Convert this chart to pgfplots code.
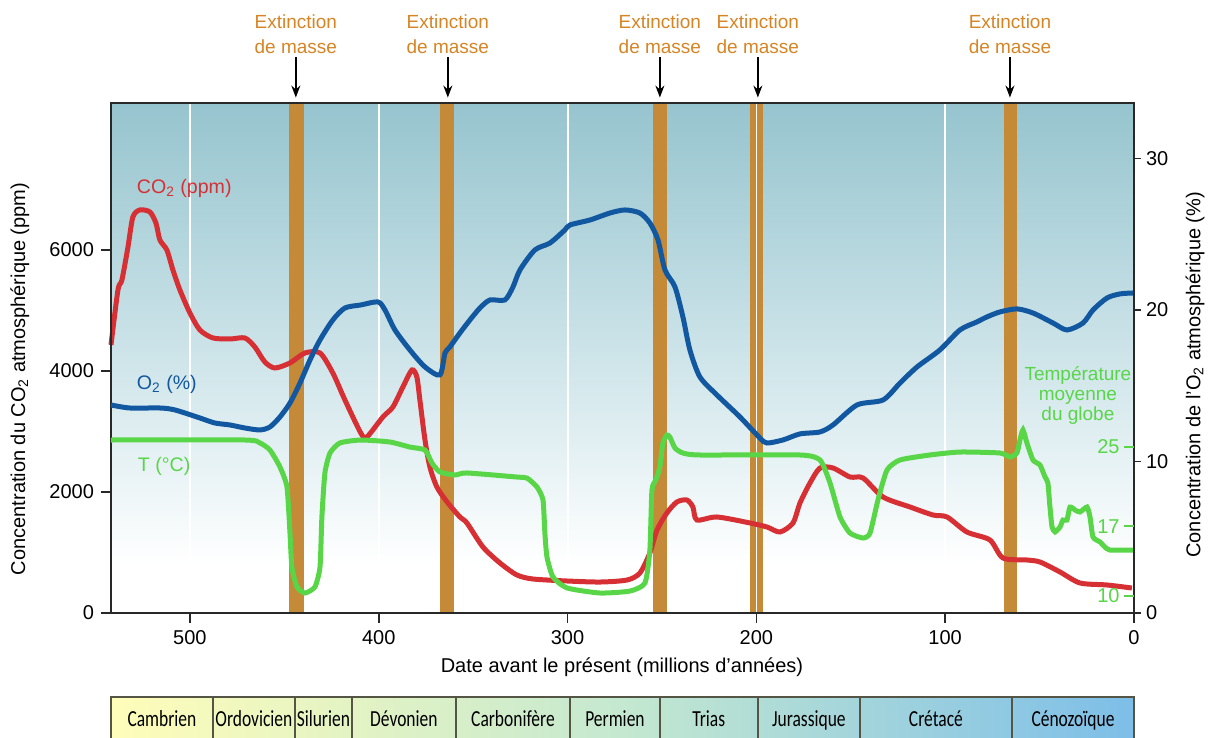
\documentclass[border=0pt]{standalone}
\usepackage{fontspec}
\setmainfont{Liberation Sans}
\newfontfamily\tablefont{Carlito}
\usepackage{graphicx}
\usepackage{pgfplots}
\pgfplotsset{compat=1.18}
\usetikzlibrary{arrows.meta}
\definecolor{co2}{RGB}{214,48,52}
\definecolor{otwo}{RGB}{18,88,160}
\definecolor{temp}{RGB}{88,214,72}
\definecolor{extc}{RGB}{196,138,56}
\definecolor{extt}{RGB}{214,132,36}
\definecolor{bgtop}{RGB}{150,196,206}
\definecolor{bgmid}{RGB}{205,228,233}
\definecolor{tabA}{RGB}{255,253,185}
\definecolor{tabB}{RGB}{196,232,208}
\definecolor{tabC}{RGB}{125,190,232}
\definecolor{framec}{RGB}{40,40,40}
\definecolor{tabline}{RGB}{85,85,70}
\pgfplotsset{common/.style={width=511.5pt,height=255pt,scale only axis,
  x dir=reverse,xmin=0,xmax=541.8,
  /pgf/number format/assume math mode=true,/pgf/number format/1000 sep={},
  tick label style={font=\fontsize{10}{12}\selectfont},
  label style={font=\fontsize{9.5}{11}\selectfont}}}
\newcommand{\tl}[1]{\scalebox{0.76}[1]{\tablefont\fontsize{11.5}{13}\selectfont #1}}
\begin{document}
\begin{tikzpicture}
\useasboundingbox (-55.5pt,-62.5pt) rectangle (552.5pt,306.5pt);
% ---------------- CO2 axis
\begin{axis}[common, ymin=0, ymax=8430, clip=false, axis on top,
  xtick={0,100,200,300,400,500}, ytick={0,2000,4000,6000},
  xtick pos=left, ytick pos=left, tick align=outside, major tick length=5pt,
  tick style={line width=0.8pt, color=framec},
  axis line style={line width=0.9pt, color=framec},
  xlabel={Date avant le présent (millions d'années)},
  ylabel={Concentration du CO\textsubscript{2} atmosphérique (ppm)},
  every axis x label/.style={at={(axis description cs:0.4995,-0.106)},anchor=center},
  every axis y label/.style={at={(axis description cs:-0.089,0.459)},rotate=90,anchor=center}]
\fill[top color=bgmid, bottom color=white] (axis cs:541.8,800) rectangle (axis cs:0,4300);
\fill[top color=bgtop, bottom color=bgmid] (axis cs:541.8,4290) rectangle (axis cs:0,8430);
% extinction bars
\fill[extc] (axis cs:447.5,0) rectangle (axis cs:439.6,8430);
\fill[extc] (axis cs:367.6,0) rectangle (axis cs:360.0,8430);
\fill[extc] (axis cs:254.6,0) rectangle (axis cs:247.5,8430);
\fill[extc] (axis cs:203.5,0) rectangle (axis cs:200.4,8430);
\fill[extc] (axis cs:199.6,0) rectangle (axis cs:196.4,8430);
\fill[extc] (axis cs:68.9,0) rectangle (axis cs:61.8,8430);
% white grid
\draw[white, line width=1pt] (axis cs:500,0) -- (axis cs:500,8430);
\draw[white, line width=1pt] (axis cs:400,0) -- (axis cs:400,8430);
\draw[white, line width=1pt] (axis cs:300,0) -- (axis cs:300,8430);
\draw[white, line width=0.6pt] (axis cs:200,0) -- (axis cs:200,8430);
\draw[white, line width=1pt] (axis cs:100,0) -- (axis cs:100,8430);
% annotations top
\foreach \xx in {443.9,363.4,251.1,199.2,65.7}{
  \edef\tmp{\noexpand\node[extt, align=center, font=\noexpand\fontsize{9.5}{12.5}\noexpand\selectfont] at (axis cs:\xx,9563) {Extinction\noexpand\\de masse};
  \noexpand\draw[-{Stealth[length=6pt,width=4.5pt]}, line width=0.8pt] (axis cs:\xx,9190) -- (axis cs:\xx,8520);}
  \tmp
}
% series labels
\node[co2, anchor=base west, font=\fontsize{9.8}{12}\selectfont] at (axis cs:531.8,6926) {CO\textsubscript{2} (ppm)};
\node[otwo, anchor=base west, font=\fontsize{9.8}{12}\selectfont] at (axis cs:531.8,3686) {O\textsubscript{2} (\%)};
\node[temp, anchor=base west, font=\fontsize{9.8}{12}\selectfont] at (axis cs:531.3,2347) {T (°C)};
\node[temp, align=center, font=\fontsize{9.5}{10.2}\selectfont] at (axis cs:29.7,3595) {Température\\moyenne\\du globe};
% period table
\fill[left color=tabA, right color=tabC, middle color=tabB] (axis cs:541.8,-1389) rectangle (axis cs:0,-2066);
\draw[tabline, line width=0.75pt] (axis cs:541.8,-2066) -- (axis cs:541.8,-1389) -- (axis cs:0,-1389) -- (axis cs:0,-2066);
\draw[tabline, line width=0.75pt] (axis cs:487.8,-1389) -- (axis cs:487.8,-2066);
\draw[tabline, line width=0.75pt] (axis cs:444.4,-1389) -- (axis cs:444.4,-2066);
\draw[tabline, line width=0.75pt] (axis cs:414.2,-1389) -- (axis cs:414.2,-2066);
\draw[tabline, line width=0.75pt] (axis cs:359.1,-1389) -- (axis cs:359.1,-2066);
\draw[tabline, line width=0.75pt] (axis cs:298.7,-1389) -- (axis cs:298.7,-2066);
\draw[tabline, line width=0.75pt] (axis cs:251.1,-1389) -- (axis cs:251.1,-2066);
\draw[tabline, line width=0.75pt] (axis cs:199.2,-1389) -- (axis cs:199.2,-2066);
\draw[tabline, line width=0.75pt] (axis cs:145.1,-1389) -- (axis cs:145.1,-2066);
\draw[tabline, line width=0.75pt] (axis cs:64.6,-1389) -- (axis cs:64.6,-2066);
\node[anchor=base] at (axis cs:514.8,-1884) {\tl{Cambrien}};
\node[anchor=base] at (axis cs:466.1,-1884) {\tl{Ordovicien}};
\node[anchor=base] at (axis cs:429.3,-1884) {\tl{Silurien}};
\node[anchor=base] at (axis cs:386.7,-1884) {\tl{Dévonien}};
\node[anchor=base] at (axis cs:328.9,-1884) {\tl{Carbonifère}};
\node[anchor=base] at (axis cs:274.9,-1884) {\tl{Permien}};
\node[anchor=base] at (axis cs:225.2,-1884) {\tl{Trias}};
\node[anchor=base] at (axis cs:172.2,-1884) {\tl{Jurassique}};
\node[anchor=base] at (axis cs:104.9,-1884) {\tl{Crétacé}};
\node[anchor=base] at (axis cs:32.3,-1884) {\tl{Cénozoïque}};
% CO2 curve
\addplot[co2, line width=2.5pt, smooth, tension=0.45] coordinates {
(541.8,4430)(538.1,5340)(536.0,5505)(532.8,6050)(530.2,6546)(526.5,6662)(521.2,6629)(518.0,6447)(515.9,6166)(512.2,6000)(509.0,5670)(505.3,5340)(500.0,4959)(494.7,4678)(487.8,4546)(478.8,4529)(470.9,4546)(465.6,4397)(460.3,4149)(455.0,4050)(447.0,4133)(439.1,4298)(431.1,4298)(424.3,3967)(417.9,3521)(409.5,2975)(406.3,2909)(397.8,3240)(392.5,3405)(387.2,3736)(382.4,4017)(379.8,3901)(378.2,3521)(375.5,2860)(372.9,2413)(369.2,2083)(363.8,1835)(357.0,1587)(353.3,1488)(344.8,1091)(335.8,827)(326.8,628)(318.3,562)(300.3,529)(282.8,512)(268.5,545)(261.7,661)(256.4,992)(252.6,1372)(247.4,1653)(242.1,1835)(236.8,1868)(233.6,1752)(231.5,1537)(220.9,1587)(203.4,1488)(194.4,1422)(187.5,1339)(180.6,1488)(176.9,1818)(171.6,2149)(166.3,2397)(159.4,2397)(150.4,2248)(143.5,2232)(132.9,1917)(118.6,1752)(106.5,1620)(99.0,1587)(88.5,1339)(76.3,1207)(69.4,909)(56.7,876)(49.8,843)(39.2,678)(28.6,496)(14.3,463)(1.1,413)};
\end{axis}
% ---------------- O2 axis
\begin{axis}[common, ymin=0, ymax=33.66, axis y line*=right, axis x line=none,
  ytick={0,10,20,30}, tick align=outside, major tick length=3.5pt,
  tick style={line width=0.8pt, color=framec},
  axis line style={line width=0.9pt, color=framec},
  yticklabel style={xshift=-1pt},
  ylabel={Concentration de l'O\textsubscript{2} atmosphérique (\%)},
  every axis y label/.style={at={(axis description cs:1.0596,0.467)},rotate=90,anchor=center}]
\addplot[otwo, line width=2.5pt, smooth, tension=0.45] coordinates {
(541.8,13.73)(531.8,13.53)(515.9,13.53)(507.9,13.40)(494.7,12.87)(486.8,12.54)(478.8,12.41)(470.9,12.21)(462.9,12.08)(457.6,12.28)(452.3,12.94)(447.0,13.86)(441.7,15.18)(436.4,16.70)(431.1,18.02)(424.3,19.34)(417.9,20.13)(409.5,20.33)(400.4,20.53)(396.7,20.00)(391.4,18.68)(383.5,17.36)(375.5,16.24)(367.6,15.71)(364.9,17.16)(362.3,17.56)(357.0,18.48)(351.7,19.34)(346.4,20.13)(341.1,20.66)(333.2,20.66)(328.9,21.52)(325.2,22.64)(317.3,23.96)(309.3,24.42)(301.4,25.28)(298.7,25.61)(288.1,25.94)(277.5,26.40)(269.6,26.60)(261.7,26.40)(256.4,25.74)(252.1,24.62)(248.4,22.64)(243.1,21.52)(238.9,19.54)(235.2,17.36)(229.9,15.58)(220.9,14.39)(208.7,12.94)(198.1,11.55)(194.4,11.22)(185.9,11.42)(176.9,11.82)(166.3,11.95)(159.4,12.41)(146.7,13.73)(132.9,14.06)(123.9,15.18)(114.9,16.24)(102.8,17.36)(92.2,18.68)(83.2,19.21)(77.9,19.54)(71.0,19.87)(62.0,20.07)(53.5,19.80)(42.9,19.14)(35.5,18.68)(27.0,19.14)(21.7,20.00)(14.3,20.79)(7.4,21.06)(0.5,21.12)};
\end{axis}
% ---------------- Temperature axis
\begin{axis}[common, ymin=8.288, ymax=59.65, axis y line*=right, axis x line=none,
  axis line style={draw=none},
  ytick={10,17,25}, tick align=inside, major tick length=5pt,
  tick style={line width=1pt, color=temp},
  yticklabel style={anchor=east, xshift=-3.7pt, text=temp}]
\addplot[temp, line width=2.5pt, smooth, tension=0.35] coordinates {
(541.8,25.71)(470.9,25.71)(462.9,25.41)(457.6,24.70)(452.3,22.99)(448.6,20.98)(447.0,16.34)(446.0,12.92)(443.3,10.91)(439.1,10.30)(433.8,10.91)(431.1,12.92)(430.1,17.96)(428.5,22.39)(425.8,24.40)(420.6,25.41)(409.5,25.71)(394.1,25.51)(383.5,25.00)(375.5,24.70)(371.8,23.39)(367.6,22.49)(359.6,22.19)(353.3,22.39)(326.8,21.98)(321.5,21.88)(316.2,20.98)(313.0,19.67)(312.0,16.34)(310.9,13.93)(307.7,11.91)(300.3,10.81)(282.8,10.30)(266.9,10.50)(259.0,11.31)(256.4,14.63)(255.3,20.67)(253.2,21.68)(251.1,22.99)(249.5,25.41)(247.4,26.21)(245.8,26.01)(243.1,24.90)(238.9,24.40)(229.9,24.20)(176.9,24.20)(166.3,23.70)(161.0,21.38)(155.7,17.96)(150.4,16.34)(143.5,15.84)(139.8,16.34)(135.6,19.67)(130.8,22.69)(123.9,23.70)(108.1,24.20)(92.2,24.50)(71.0,24.40)(65.7,24.00)(62.0,24.40)(60.4,25.71)(58.8,26.72)(56.7,25.41)(53.5,23.70)(49.8,23.19)(47.1,21.98)(45.6,21.38)(44.5,18.96)(43.4,16.95)(41.8,16.45)(39.2,16.95)(37.6,17.65)(35.5,17.65)(33.9,18.96)(31.2,18.66)(28.6,18.46)(24.9,18.96)(23.3,17.96)(21.7,15.94)(18.0,15.44)(15.4,14.93)(12.7,14.63)(0.5,14.63)};
\end{axis}
\end{tikzpicture}
\end{document}
